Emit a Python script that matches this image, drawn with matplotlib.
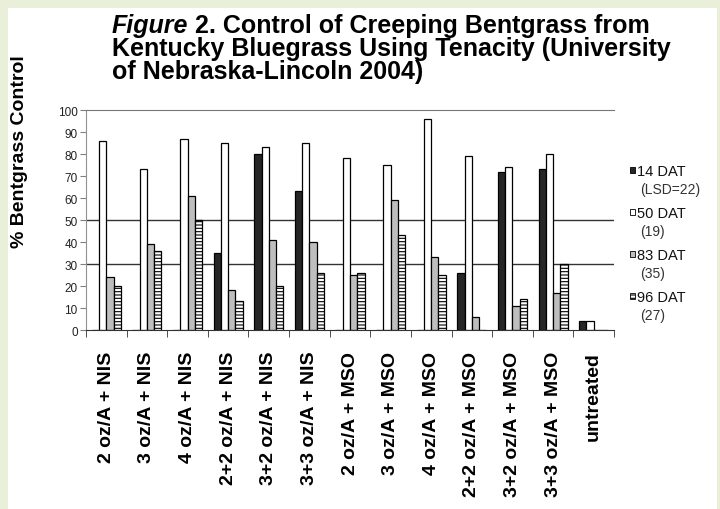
import matplotlib
matplotlib.use('Agg')
import matplotlib.pyplot as plt
from matplotlib.patches import Rectangle
import numpy as np

plt.rcParams['font.family'] = ['Liberation Sans', 'DejaVu Sans']
plt.rcParams['hatch.linewidth'] = 0.8

# data
treatments = ['2 oz/A + NIS', '3 oz/A + NIS', '4 oz/A + NIS', '2+2 oz/A + NIS',
              '3+2 oz/A + NIS', '3+3 oz/A + NIS', '2 oz/A + MSO', '3 oz/A + MSO',
              '4 oz/A + MSO', '2+2 oz/A + MSO', '3+2 oz/A + MSO', '3+3 oz/A + MSO',
              'untreated']
dat14 = [0, 0, 0, 35, 80, 63, 0, 0, 0, 26, 72, 73, 4]
dat50 = [86, 73, 87, 85, 83, 85, 78, 75, 96, 79, 74, 80, 4]
dat83 = [24, 39, 61, 18, 41, 40, 25, 59, 33, 6, 11, 17, 0]
dat96 = [20, 36, 50, 13, 20, 26, 26, 43, 25, 0, 14, 30, 0]
legend_lines = ['14 DAT', '50 DAT', '83 DAT', '96 DAT']
legend_lsd = ['(LSD=22)', '(19)', '(35)', '(27)']

fig = plt.figure(figsize=(7.2, 5.1), dpi=100)
fig.patch.set_facecolor('#e9efd9')
fig.patches.append(Rectangle((8/720, 0), 709/720, 1 - 9/510, transform=fig.transFigure,
                             facecolor='white', edgecolor='none', zorder=-5))

ax = fig.add_axes([86/720, 1 - 331/510, (614 - 86)/720, (331 - 111)/510])
ax.set_facecolor('none')
x = np.arange(len(treatments))
w = 1 / 5.6
styles = [dict(color='#262626', edgecolor='black'),
          dict(color='white', edgecolor='black'),
          dict(color='#bebebe', edgecolor='black'),
          dict(color='white', edgecolor='black', hatch='-----')]
series = [dat14, dat50, dat83, dat96]
for k, (vals, st) in enumerate(zip(series, styles)):
    ax.bar(x + (k - 1.5) * w, vals, w, linewidth=0.9, zorder=3, **st)

ax.set_xlim(-0.5, len(treatments) - 0.5)
ax.set_ylim(0, 100)
ax.set_yticks(np.arange(0, 101, 10))
ax.tick_params(axis='y', labelsize=8.5, length=4, color='#808080', labelcolor='#222222', pad=2)
for g in [30, 50]:
    ax.axhline(g, color='#333333', linewidth=1, zorder=1)

ax.set_xticks(x)
ax.set_xticklabels(treatments, rotation=90, fontsize=14, fontweight='bold', va='top')
ax.tick_params(axis='x', length=0, pad=15)
ax.set_xticks(np.arange(-0.5, len(treatments)), minor=True)
ax.tick_params(axis='x', which='minor', length=5, color='#333333')

ax.spines['right'].set_visible(False)
ax.spines['top'].set_color('#777777')
ax.spines['left'].set_color('#909090')
ax.spines['bottom'].set_color('#333333')
ax.spines['bottom'].set_zorder(4)

fig.text(20/720, 1 - 152/510, '% Bentgrass Control', rotation=90, ha='center', va='center',
         fontsize=14, fontweight='bold')

# title, "Figure" in italic
r = fig.canvas.get_renderer()
t0 = fig.text(112/720, 1 - 33/510, 'Figure', fontsize=18, fontweight='bold', style='italic',
              va='baseline')
bb = t0.get_window_extent(renderer=r)
fig.text(bb.x1/720, 1 - 33/510, ' 2. Control of Creeping Bentgrass from', fontsize=18,
         fontweight='bold', va='baseline')
fig.text(112/720, 1 - 56/510, 'Kentucky Bluegrass Using Tenacity (University', fontsize=18,
         fontweight='bold', va='baseline')
fig.text(112/720, 1 - 79/510, 'of Nebraska-Lincoln 2004)', fontsize=18,
         fontweight='bold', va='baseline')

# legend drawn by hand
for i in range(4):
    y0 = 1 - (172 + i * 42) / 510
    fig.patches.append(Rectangle((630/720, y0 - 2/510), 5/720, 6/510, transform=fig.transFigure,
                                 facecolor=styles[i]['color'], edgecolor='black',
                                 linewidth=0.6, hatch=styles[i].get('hatch'), zorder=3))
    fig.text(637/720, y0, legend_lines[i], fontsize=10.5, va='center', color='#111111')
    fig.text(640/720, y0 - 18/510, legend_lsd[i], fontsize=10, va='center', color='#333333')

fig.savefig('out.png', dpi=100, facecolor=fig.get_facecolor())
